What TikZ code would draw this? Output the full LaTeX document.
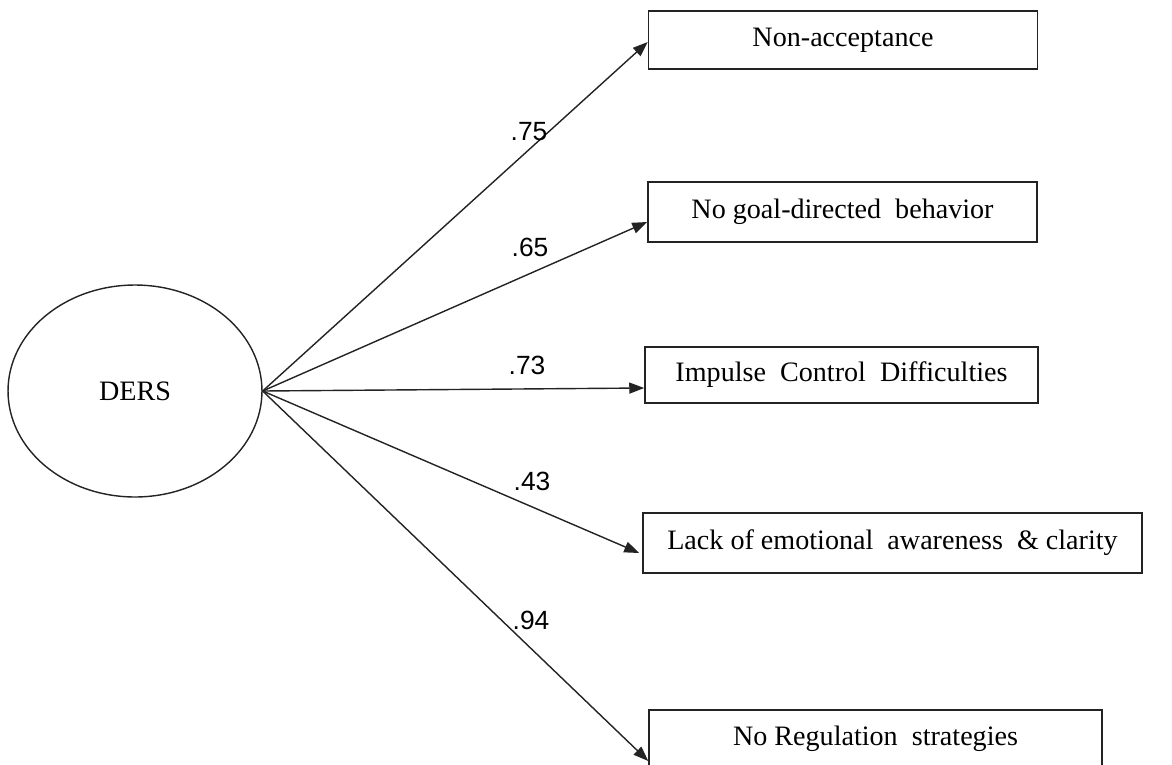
\documentclass[tikz,border=0pt]{standalone}
\usepackage{fontspec}
\setmainfont{Liberation Serif}
\newfontfamily\lblfont{Liberation Sans}
\usepackage{tikz}
\usetikzlibrary{shapes.geometric, arrows.meta, positioning, calc}
\definecolor{linegray}{RGB}{35, 35, 35}

\begin{document}
\begin{tikzpicture}[x=0.02cm, y=-0.02cm,
    factor/.style={draw=linegray, line width=0.9pt, rectangle, inner sep=0pt,
          minimum height=1.17cm, font=\fontsize{16}{19}\selectfont},
    latent/.style={draw=linegray, line width=0.8pt, ellipse, inner sep=0pt,
          minimum width=5.08cm, minimum height=4.24cm, font=\fontsize{16}{19}\selectfont},
    load/.style={draw=linegray, line width=0.8pt, -{Triangle[length=0.3cm, width=0.22cm]}},
    coef/.style={inner sep=0pt, font=\lblfont\fontsize{15}{18}\selectfont}]
    \useasboundingbox (0,0) rectangle (1172,764);

    % Latent variable
    \node[latent] (ders) at (135,391) {DERS};

    % Subscales
    \node[factor, minimum width=7.78cm] (nonacc) at (843,40) {Non-acceptance};
    \node[factor, minimum width=7.78cm, minimum height=1.2cm] (goal) at (842.5,212) {No goal-directed\ \ behavior};
    \node[factor, minimum width=7.86cm, minimum height=1.12cm] (impulse) at (841.5,375) {Impulse\ \ Control\ \ Difficulties};
    \node[factor, minimum width=9.98cm, minimum height=1.2cm] (aware) at (892.5,543) {Lack of emotional\ \ awareness\ \ \& clarity};
    \node[factor, minimum width=9.06cm] (regul) at (875.5,739) {No Regulation\ \ strategies};

    % Loadings
    \draw[load] (ders.east) -- ($(nonacc.west)+(0,2)$);
    \draw[load] (ders.east) -- ($(goal.west)+(0,10)$);
    \draw[load] (ders.east) -- ($(impulse.west)+(0,13)$);
    \draw[load] (ders.east) -- ($(aware.west)+(-3,10)$);
    \draw[load] (ders.east) -- ($(regul.west)+(0,22)$);

    % Coefficients
    \node[coef] (c75) at (529,132) {.75};
    \node[coef] (c65) at (530,247) {.65};
    \node[coef] (c73) at (527,365) {.73};
    \node[coef] (c43) at (532,481) {.43};
    \node[coef] (c94) at (531,620) {.94};
\end{tikzpicture}
\end{document}
